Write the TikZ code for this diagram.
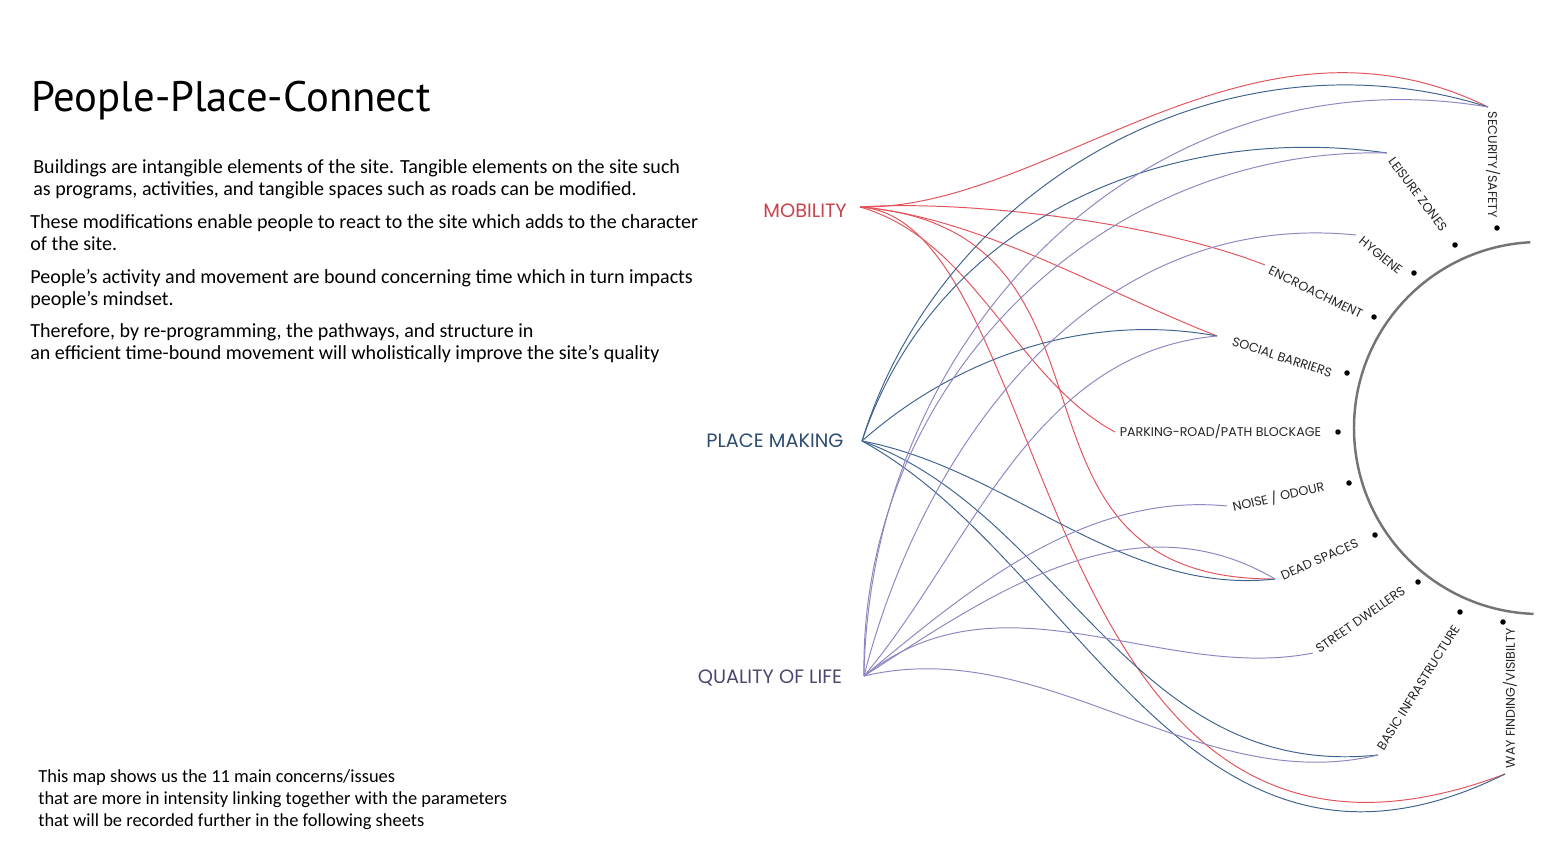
\documentclass[tikz,border=0pt]{standalone}
\usepackage{fontspec}
\setmainfont{Carlito}
\newfontfamily\titlefont{PT Sans}
\newfontfamily\capsfont{Poppins}
\usetikzlibrary{positioning}

\definecolor{mobred}{HTML}{E2525A}
\definecolor{mobtext}{HTML}{C8434D}
\definecolor{plcblue}{HTML}{3F6390}
\definecolor{plctext}{HTML}{2E4D70}
\definecolor{qolpurple}{HTML}{8E86C0}
\definecolor{qoltext}{HTML}{4B4870}
\definecolor{ringgray}{HTML}{747474}

\tikzset{
  hub/.style={font=\capsfont\fontsize{11}{13}\selectfont},
  concern/.style={font=\capsfont\fontsize{7.2}{8}\selectfont, anchor=west, inner sep=2pt, text=black!85},
  dot/.style={circle, fill=black, inner sep=0pt, minimum size=0.11cm},
  para/.style={anchor=north west, inner sep=0pt, align=left, font=\fontsize{11.4}{12.5}\selectfont},
  mobline/.style={draw=mobred, line width=0.55pt},
  plcline/.style={draw=plcblue, line width=0.55pt},
  qolline/.style={draw=qolpurple, line width=0.55pt}
}

\begin{document}
\begin{tikzpicture}[x=0.02cm,y=-0.02cm]
\useasboundingbox (0,0) rectangle (1543,845);
\fill[white] (0,0) rectangle (1543,845);

\node[anchor=base west, inner sep=0pt, font=\titlefont\fontsize{24.3}{28}\selectfont] (title) at (31,112) {People-Place-Connect};
\node[para] (para1) at (33,159) {Buildings are intangible elements of the site. Tangible elements on the site such\\ as programs, activities, and tangible spaces such as roads can be modified.};
\node[para] (para2) at (30,214) {These modifications enable people to react to the site which adds to the character\\of the site.};
\node[para] (para3) at (30,269) {People's activity and movement are bound concerning time which in turn impacts\\people's mindset.};
\node[para] (para4) at (30,323) {Therefore, by re-programming, the pathways, and structure in\\an efficient time-bound movement will wholistically improve the site's quality};
\node[para, font=\fontsize{10.5}{12.7}\selectfont] (note) at (38,769) {This map shows us the 11 main concerns/issues\\that are more in intensity linking together with the parameters\\that will be recorded further in the following sheets};

\coordinate (mob) at (860,207);
\coordinate (plc) at (862,441);
\coordinate (qol) at (864,676);
\node[hub, text=mobtext, left=4pt of mob, yshift=-2pt] (mobl) {MOBILITY};
\node[hub, text=plctext, left=7pt of plc] (plcl) {PLACE MAKING};
\node[hub, text=qoltext, left=9pt of qol, yshift=-1pt] (qoll) {QUALITY OF LIFE};

\coordinate (sec) at (1488,107);
\coordinate (lei) at (1387,153);
\coordinate (hyg) at (1356,235);
\coordinate (enc) at (1265,265);
\coordinate (soc) at (1217,336);
\coordinate (park) at (1115,432);
\coordinate (noise) at (1227,506);
\coordinate (dead) at (1275,579);
\coordinate (street) at (1313,653);
\coordinate (basic) at (1378,755);
\coordinate (way) at (1505,774);

\node[concern, rotate=-90] (secl) at (1493,108) {SECURITY/SAFETY};
\node[concern, rotate=-53] (leil) at (1389,156) {LEISURE ZONES};
\node[concern, rotate=-39] (hygl) at (1358,237) {HYGIENE};
\node[concern, rotate=-26] (encl) at (1266,268) {ENCROACHMENT};
\node[concern, rotate=-18] (socl) at (1229,340) {SOCIAL BARRIERS};
\node[concern] (parkl) at (1116,432) {PARKING-ROAD/PATH BLOCKAGE};
\node[concern, rotate=13] (noisel) at (1229,508) {NOISE / ODOUR};
\node[concern, rotate=24] (deadl) at (1278,578) {DEAD SPACES};
\node[concern, rotate=35] (streetl) at (1314,652) {STREET DWELLERS};
\node[concern, rotate=58] (basicl) at (1378,752) {BASIC INFRASTRUCTURE};
\node[concern, rotate=90] (wayl) at (1510,772) {WAY FINDING/VISIBILTY};

\node[dot] (secd) at (1497,228) {};
\node[dot] (leid) at (1455,245) {};
\node[dot] (hygd) at (1414,273) {};
\node[dot] (encd) at (1374,317) {};
\node[dot] (socd) at (1347,373) {};
\node[dot] (parkd) at (1338,432) {};
\node[dot] (noised) at (1349,483) {};
\node[dot] (deadd) at (1375,535) {};
\node[dot] (streetd) at (1418,582) {};
\node[dot] (basicd) at (1460,612) {};
\node[dot] (wayd) at (1503,622) {};

\coordinate (ctr) at (1540,428);
\draw[ringgray, line width=1.4pt] (ctr) ++(267:186) arc[start angle=267, end angle=92, radius=186];

\draw[mobline] (mob) .. controls (1050,210) and (1250,-10) .. (sec);
\draw[mobline] (mob) .. controls (960,200) and (1150,220) .. (enc);
\draw[mobline] (mob) .. controls (979,217) and (1102,291) .. (soc);
\draw[mobline] (mob) .. controls (975,240) and (1015,378) .. (park);
\draw[mobline] (mob) .. controls (1150,230) and (975,580) .. (dead);
\draw[mobline] (mob) .. controls (1060,220) and (1028,954) .. (way);

\draw[plcline] (plc) .. controls (943,179) and (1230,25) .. (sec);
\draw[plcline] (plc) .. controls (937,217) and (1170,122) .. (lei);
\draw[plcline] (plc) .. controls (957,357) and (1087,312) .. (soc);
\draw[plcline] (plc) .. controls (1010,469) and (1122,596) .. (dead);
\draw[plcline] (plc) .. controls (1063,513) and (1131,781) .. (basic);
\draw[plcline] (plc) .. controls (1081,560) and (1190,930) .. (way);

\draw[qolline] (qol) .. controls (870,330) and (1150,50) .. (sec);
\draw[qolline] (qol) .. controls (859,386) and (1099,146) .. (lei);
\draw[qolline] (qol) .. controls (922,449) and (1090,208) .. (hyg);
\draw[qolline] (qol) .. controls (970,551) and (1030,353) .. (soc);
\draw[qolline] (qol) .. controls (967,591) and (1083,492) .. (noise);
\draw[qolline] (qol) .. controls (983,600) and (1129,493) .. (dead);
\draw[qolline] (qol) .. controls (1002,566) and (1162,683) .. (street);
\draw[qolline] (qol) .. controls (1046,633) and (1198,798) .. (basic);
\end{tikzpicture}
\end{document}
